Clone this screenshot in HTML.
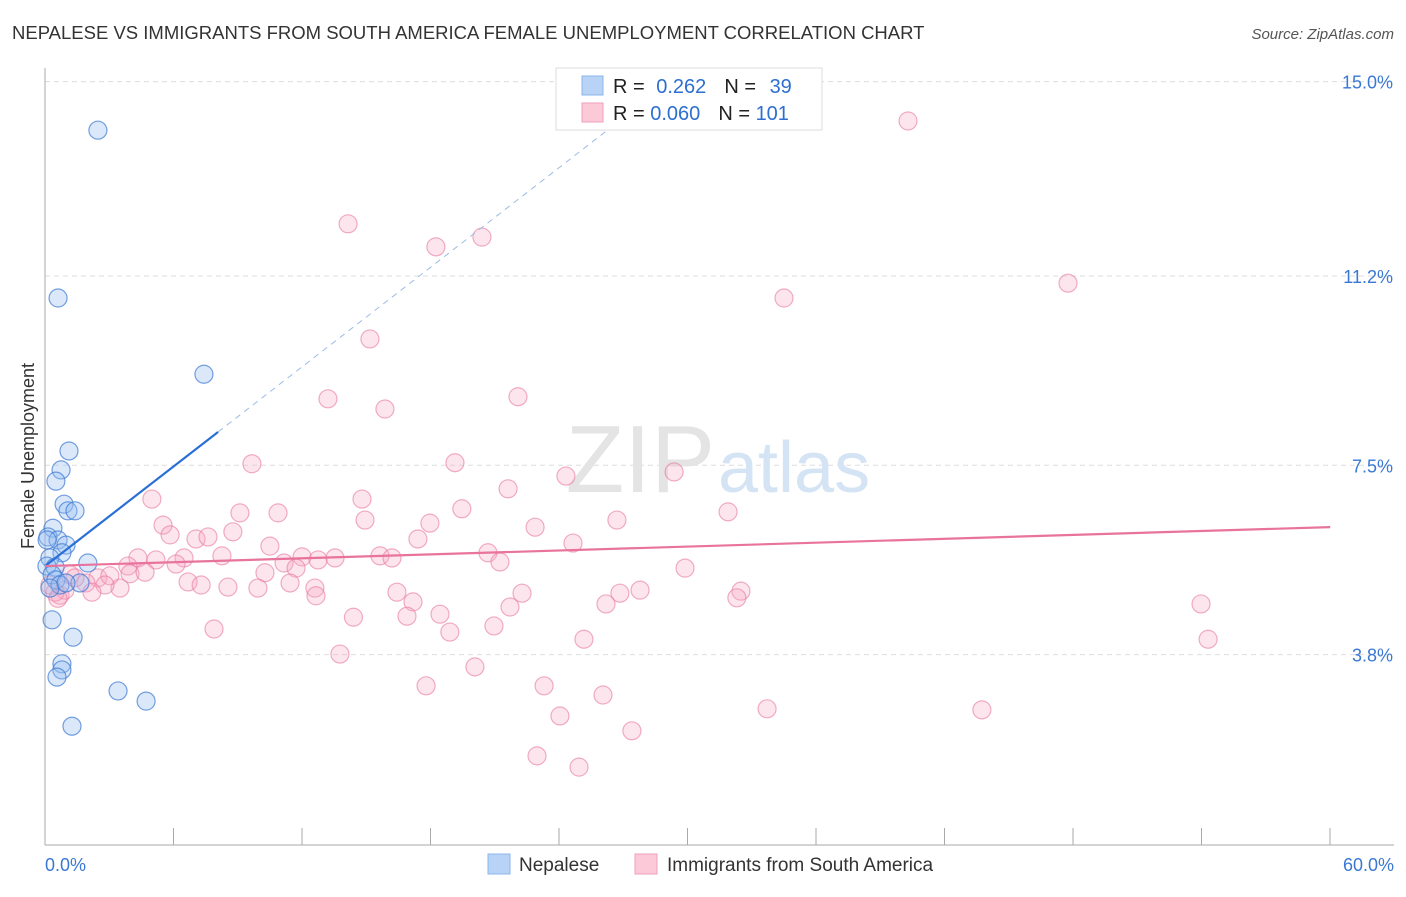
<!DOCTYPE html>
<html><head><meta charset="utf-8"><style>
body{margin:0;background:#fff;font-family:"Liberation Sans",sans-serif;}
svg text{font-family:"Liberation Sans",sans-serif;}
</style></head><body>
<svg id="chart" width="1406" height="892">
<text x="12" y="39" font-size="18.5" fill="#333">NEPALESE VS IMMIGRANTS FROM SOUTH AMERICA FEMALE UNEMPLOYMENT CORRELATION CHART</text>
<text x="1394" y="39" font-size="15" fill="#555" text-anchor="end" font-style="italic">Source: ZipAtlas.com</text>
<text x="34" y="456" font-size="18" fill="#333" text-anchor="middle" transform="rotate(-90 34 456)">Female Unemployment</text>
<g id="grid"></g>
<text x="715" y="492" font-size="96" fill="#e4e4e4" text-anchor="end" font-family="Liberation Serif">ZIP</text>
<text x="718" y="492" font-size="72" fill="#d4e4f4">atlas</text>
<g id="axes"></g>
<g id="pts"></g>
<g id="lines"></g>
<g>
<rect x="556" y="68" width="266" height="62" fill="#fff" stroke="#ddd"/>
<rect x="582" y="76" width="21" height="19" fill="#b8d3f5" stroke="#8ab4ec"/>
<rect x="582" y="103" width="21" height="19" fill="#fcc9d9" stroke="#f0a0bb"/>
<text x="613" y="93" font-size="20" fill="#222">R = <tspan fill="#2d6fd0" dx="6">0.262</tspan><tspan fill="#222" dx="18">N = </tspan><tspan fill="#2d6fd0" dx="8">39</tspan></text>
<text x="613" y="120" font-size="20" fill="#222">R = <tspan fill="#2d6fd0">0.060</tspan><tspan fill="#222" dx="18">N = </tspan><tspan fill="#2d6fd0">101</tspan></text>
</g>
<g>
<rect x="488" y="854" width="22" height="20" fill="#b8d3f5" stroke="#8ab4ec"/>
<text x="519" y="871" font-size="19" fill="#333">Nepalese</text>
<rect x="635" y="854" width="22" height="20" fill="#fcc9d9" stroke="#f0a0bb"/>
<text x="667" y="871" font-size="19" fill="#333">Immigrants from South America</text>
</g>
</svg>
<script>
const yTicks=[3.8,7.5,11.2,15.0];
const yTickLabels=["3.8%","7.5%","11.2%","15.0%"];
const xTickLabels=["0.0%","60.0%"];
const blueX=[2.47,0.61,7.42,1.12,0.75,0.51,0.89,1.07,1.4,0.37,0.14,0.61,0.98,0.79,2.0,0.23,0.09,0.47,0.33,0.51,0.70,1.63,0.23,0.33,1.31,0.79,0.79,0.56,3.41,4.72,1.26,0.98,0.1];
const blueY=[14.05,10.77,9.28,7.78,7.41,7.19,6.74,6.61,6.61,6.27,6.10,6.04,5.94,5.79,5.59,5.69,5.53,5.51,5.36,5.26,5.16,5.20,5.10,4.48,4.14,3.62,3.50,3.36,3.09,2.89,2.40,5.20,6.04];
const pinkX=[40.29,14.15,18.25,20.4,47.76,34.5,15.17,13.21,15.87,22.08,9.66,19.14,24.32,29.37,21.62,4.99,14.8,19.46,31.89,9.1,10.88,14.94,26.7,5.51,17.97,22.88,8.77,7.05,7.61,5.84,17.41,24.65,10.5,20.68,15.64,16.2,8.26,6.49,12.0,12.75,13.54,4.34,5.18,21.24,6.12,11.16,11.72,3.87,29.88,10.27,3.97,4.67,2.47,3.03,6.68,8.54,7.29,11.44,9.94,3.5,2.8,1.91,2.19,12.6,16.43,22.27,27.78,26.84,32.49,32.3,12.65,17.18,26.19,21.71,18.44,16.9,14.4,53.97,20.96,18.9,7.89,25.16,54.3,13.77,20.07,23.3,17.79,26.05,33.71,43.74,24.04,27.4,22.97,24.93,0.7,0.93,0.47,0.23,1.17,1.4,0.6];
const pinkY=[14.23,12.22,11.77,11.96,11.06,10.77,9.97,8.80,8.60,8.84,7.53,7.55,7.29,7.37,7.04,6.84,6.84,6.65,6.59,6.57,6.57,6.43,6.43,6.33,6.37,6.29,6.20,6.06,6.10,6.14,6.06,5.98,5.92,5.79,5.73,5.69,5.73,5.69,5.71,5.65,5.69,5.69,5.65,5.61,5.57,5.59,5.49,5.53,5.49,5.40,5.38,5.41,5.30,5.34,5.22,5.12,5.16,5.20,5.10,5.10,5.16,5.20,5.02,5.10,5.02,5.0,5.06,5.0,5.04,4.91,4.95,4.83,4.79,4.73,4.59,4.55,4.53,4.79,4.36,4.24,4.30,4.10,4.10,3.81,3.56,3.19,3.19,3.01,2.74,2.72,2.60,2.31,1.82,1.60,4.96,5.06,5.02,5.16,5.36,5.30,4.90];
const blueFit=[5.53,0.3245,8.08,26.8];
const pinkFit=[5.53,0.0127,60];
const NS="http://www.w3.org/2000/svg";
const sx=v=>45+v*21.42, sy=v=>849-v*51.16;
function mk(tag,attrs,parent){const e=document.createElementNS(NS,tag);for(const k in attrs)e.setAttribute(k,attrs[k]);parent.appendChild(e);return e;}
const grid=document.getElementById('grid'),axes=document.getElementById('axes'),pts=document.getElementById('pts'),lines=document.getElementById('lines');
yTicks.forEach((t,i)=>{
 const l=mk('line',{x1:45,x2:1394,y1:sy(t),y2:sy(t),stroke:'#ddd','stroke-dasharray':'5,4'},grid);
 
 
 const tx=mk('text',{x:1393,y:sy(t)+7,'font-size':18,fill:'#3a78d4','text-anchor':'end'},axes);
 tx.textContent=yTickLabels[i];
 
 
});
const ax=mk('line',{x1:45,x2:45,y1:68,y2:845,stroke:'#aaa'},axes);


const bx=mk('line',{x1:45,x2:1394,y1:845,y2:845,stroke:'#aaa'},axes);


for(let i=0;i<=10;i++){
 const x=45+i*128.5;
 const tk=mk('line',{x1:x,x2:x,y1:828,y2:845,stroke:'#aaa'},axes);
 
 
}
[[0,45,'start'],[60,1394,'end']].forEach((a,i)=>{
 const tx=mk('text',{x:a[1],y:871,'font-size':18,fill:'#3a78d4','text-anchor':a[2]},axes);
 tx.textContent=xTickLabels[i];
 
 
});
pinkX.forEach((v,i)=>{
 const c=mk('circle',{cx:sx(v),cy:sy(pinkY[i]),r:9,fill:'rgba(248,170,195,0.3)',stroke:'rgba(232,120,160,0.6)','stroke-width':1.2},pts);
 
 
});
blueX.forEach((v,i)=>{
 const c=mk('circle',{cx:sx(v),cy:sy(blueY[i]),r:9,fill:'rgba(150,190,240,0.35)',stroke:'rgba(60,120,210,0.7)','stroke-width':1.2},pts);
 
 
});
const bl=mk('line',{x1:sx(0),y1:sy(blueFit[0]),x2:sx(blueFit[2]),y2:sy(blueFit[0]+blueFit[1]*blueFit[2]),stroke:'#2a6fd6','stroke-width':2.2},lines);


const bd=mk('line',{x1:sx(blueFit[2]),y1:sy(blueFit[0]+blueFit[1]*blueFit[2]),x2:sx(blueFit[3]),y2:sy(blueFit[0]+blueFit[1]*blueFit[3]),stroke:'#9bbce6','stroke-width':1,'stroke-dasharray':'6,5'},lines);


const pl=mk('line',{x1:sx(0),y1:sy(pinkFit[0]),x2:sx(pinkFit[2]),y2:sy(pinkFit[0]+pinkFit[1]*pinkFit[2]),stroke:'#e8739c','stroke-width':2.2},lines);


</script>
</body></html>
